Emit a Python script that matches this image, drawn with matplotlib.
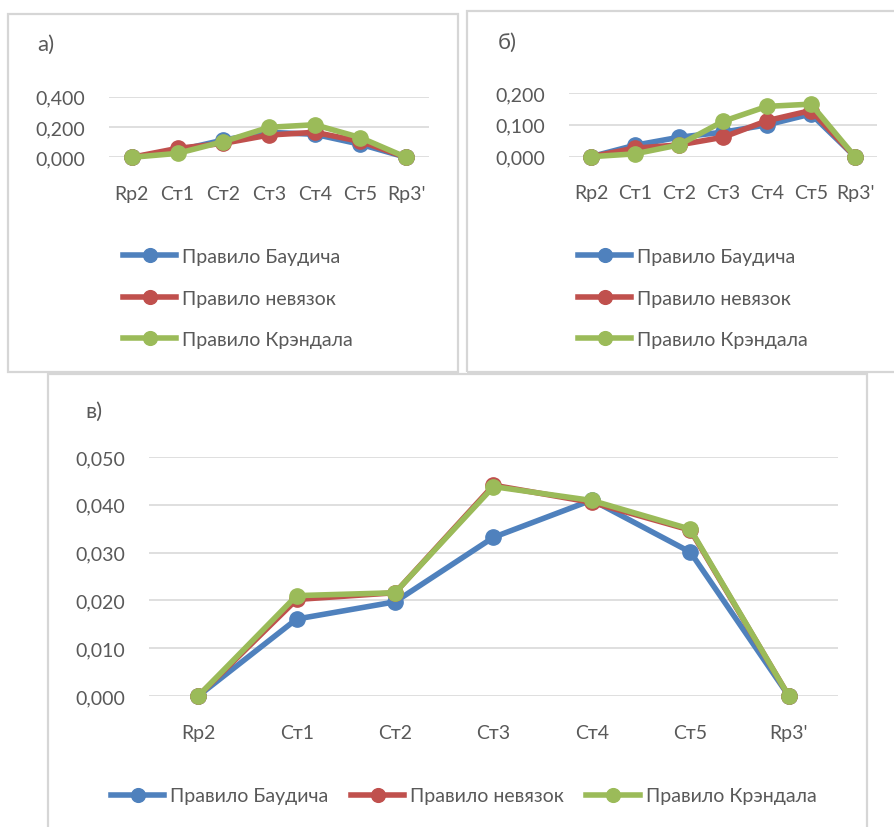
import matplotlib
matplotlib.use("Agg")
import matplotlib.pyplot as plt
from matplotlib.patches import Rectangle
from matplotlib.ticker import FuncFormatter

plt.rcParams['font.family'] = ['Lato', 'DejaVu Sans']

# Stations along the traverse
stations = ["Rp2", "Ст1", "Ст2", "Ст3", "Ст4", "Ст5", "Rp3'"]
series_names = ["Правило Баудича", "Правило невязок", "Правило Крэндала"]

# а) corrections
a_bowditch = [0.000, 0.045, 0.114, 0.165, 0.152, 0.086, 0.000]
a_residual = [0.000, 0.059, 0.092, 0.147, 0.165, 0.105, 0.000]
a_crandall = [0.000, 0.026, 0.103, 0.198, 0.215, 0.130, 0.000]

# б) corrections
b_bowditch = [0.000, 0.036, 0.061, 0.077, 0.100, 0.134, 0.000]
b_residual = [0.000, 0.027, 0.037, 0.061, 0.113, 0.145, 0.000]
b_crandall = [0.000, 0.009, 0.037, 0.111, 0.158, 0.165, 0.000]

# в) corrections
c_bowditch = [0.000, 0.0161, 0.0197, 0.0332, 0.0410, 0.0301, 0.000]
c_residual = [0.000, 0.0202, 0.0216, 0.0441, 0.0405, 0.0347, 0.000]
c_crandall = [0.000, 0.0210, 0.0216, 0.0438, 0.0409, 0.0349, 0.000]

a_ticks = [0.0, 0.2, 0.4]
b_ticks = [0.0, 0.1, 0.2]
c_ticks = [0.0, 0.01, 0.02, 0.03, 0.04, 0.05]

colors = ["#4F81BD", "#C0504D", "#9BBB59"]
TEXT = "#595959"
GRID = "#D9D9D9"
FS = 14

W, H = 894, 828
fig = plt.figure(figsize=(W / 100, H / 100), dpi=100)
fig.patch.set_facecolor("white")


def fx(x):
    return x / W


def fy(y):
    return 1 - y / H


def box(x0, y0, x1, y1):
    fig.patches.append(Rectangle((fx(x0), fy(y1)), fx(x1) - fx(x0), fy(y0) - fy(y1),
                                 transform=fig.transFigure, fill=False,
                                 edgecolor="#D6D6D6", linewidth=1.6, zorder=0))


def panel(left, right, top, bottom, series, ticks):
    ax = fig.add_axes([fx(left), fy(bottom), fx(right) - fx(left), fy(top) - fy(bottom)])
    ax.set_facecolor("none")
    handles = []
    for vals, col, name in zip(series, colors, series_names):
        h, = ax.plot(range(len(stations)), vals, color=col, lw=4.0, marker="o",
                     markersize=11, clip_on=False, label=name, solid_joinstyle="round")
        handles.append(h)
    ax.set_xlim(-0.5, len(stations) - 0.5)
    ax.set_ylim(ticks[0], ticks[-1])
    ax.set_yticks(ticks)
    ax.yaxis.set_major_formatter(FuncFormatter(lambda v, p: f"{v:.3f}".replace(".", ",")))
    ax.set_xticks(range(len(stations)))
    ax.set_xticklabels(stations)
    ax.grid(axis="y", color=GRID, lw=1.2)
    ax.set_axisbelow(True)
    for s in ax.spines.values():
        s.set_visible(False)
    ax.tick_params(axis="both", length=0, labelsize=FS, labelcolor=TEXT)
    ax.tick_params(axis="y", pad=17)
    ax.tick_params(axis="x", pad=20)
    return ax, handles


# panel frames
box(8, 15, 458, 373)
box(467, 12, 900, 373)
box(48, 375, 867, 835)

ax_a, h_a = panel(109, 429, 97.7, 158.3, [a_bowditch, a_residual, a_crandall], a_ticks)
ax_b, h_b = panel(569, 877, 94, 157.7, [b_bowditch, b_residual, b_crandall], b_ticks)
ax_c, h_c = panel(149, 838, 458, 697, [c_bowditch, c_residual, c_crandall], c_ticks)

fig.text(fx(37), fy(45), "а)", fontsize=16, color=TEXT, va="center", ha="left")
fig.text(fx(498), fy(43), "б)", fontsize=16, color=TEXT, va="center", ha="left")
fig.text(fx(85), fy(412), "в)", fontsize=16, color=TEXT, va="center", ha="left")

leg_kw = dict(frameon=False, fontsize=FS, labelcolor=TEXT, borderpad=0, borderaxespad=0,
              handlelength=2.75, handletextpad=0.3, markerscale=0.9)
fig.legend(handles=h_a, labels=series_names, loc="center left",
           bbox_to_anchor=(fx(123), fy(299)), labelspacing=1.27, **leg_kw)
fig.legend(handles=h_b, labels=series_names, loc="center left",
           bbox_to_anchor=(fx(578), fy(299)), labelspacing=1.27, **leg_kw)
fig.legend(handles=h_c, labels=series_names, loc="center left", ncol=3,
           bbox_to_anchor=(fx(111), fy(797)), columnspacing=1.15, **leg_kw)

fig.savefig("out.png", dpi=100, facecolor="white")
